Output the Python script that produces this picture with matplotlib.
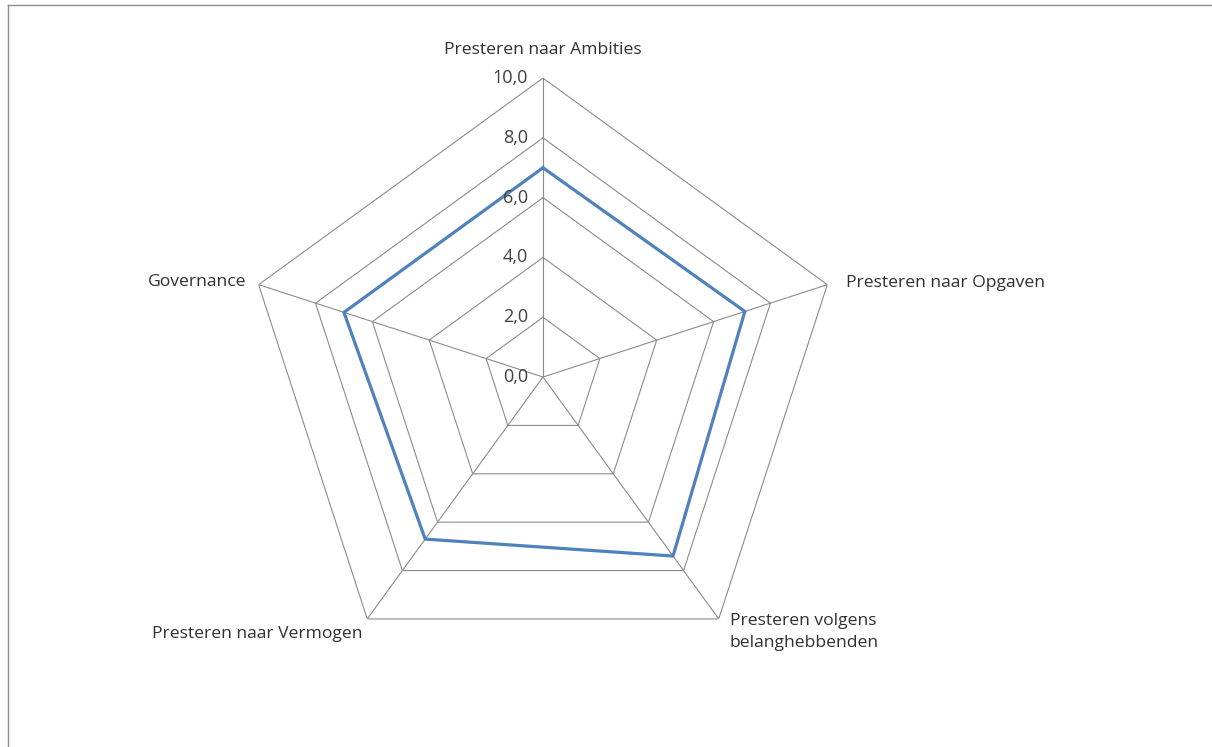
import matplotlib.pyplot as plt
import numpy as np

# radar chart data
categories = ["Presteren naar Ambities", "Presteren naar Opgaven",
              "Presteren volgens\nbelanghebbenden", "Presteren naar Vermogen",
              "Governance"]
scores = [7.0, 7.1, 7.4, 6.7, 7.0]
ticks = [0, 2, 4, 6, 8, 10]
tick_labels = ["0,0", "2,0", "4,0", "6,0", "8,0", "10,0"]

plt.rcParams['font.family'] = ['Open Sans', 'DejaVu Sans']

n = len(categories)
angles = np.linspace(0, 2 * np.pi, n, endpoint=False)
closed = np.append(angles, angles[0])

fig = plt.figure(figsize=(12.12, 7.47), dpi=100)
ax = fig.add_axes([0.2013, 0.095, 0.4934, 0.8005], projection='polar')
ax.set_theta_zero_location('N')
ax.set_theta_direction(-1)
ax.set_ylim(0, 10)
ax.grid(False)
ax.spines['polar'].set_visible(False)
ax.set_xticks([])
ax.set_yticks([])
ax.patch.set_alpha(0)

grid_color = '#8c8c8c'
# pentagon rings
for t in ticks[1:]:
    ax.plot(closed, [t] * (n + 1), color=grid_color, lw=0.8, zorder=1)
# spokes
for a in angles:
    ax.plot([a, a], [0, 10], color=grid_color, lw=0.8, zorder=1)

# data series
vals = scores + scores[:1]
ax.plot(closed, vals, color='#4f81bd', lw=2.3, zorder=3)

# value labels along the top axis
for t, lab in zip(ticks, tick_labels):
    ax.annotate(lab, (0, t), xytext=(-15, 0), textcoords='offset pixels',
                ha='right', va='center', fontsize=13, color='#404040')

# category labels
offsets = [(0, 28, 'center', 'center'), (19, 2, 'left', 'center'),
           (11, -13, 'left', 'center'), (-5, -15, 'right', 'center'),
           (-12, 3, 'right', 'center')]
for a, lab, (dx, dy, ha, va) in zip(angles, categories, offsets):
    ax.annotate(lab, (a, 10), xytext=(dx, dy), textcoords='offset pixels',
                ha=ha, va=va, fontsize=12.6, color='#303030', linespacing=1.5,
                annotation_clip=False)

# chart area border (top and left visible)
fig.add_artist(plt.Line2D([8 / 1212, 1], [1 - 5 / 747, 1 - 5 / 747],
                          color='#8c8c8c', lw=1, transform=fig.transFigure))
fig.add_artist(plt.Line2D([8 / 1212, 8 / 1212], [0, 1 - 5 / 747],
                          color='#8c8c8c', lw=1, transform=fig.transFigure))

fig.savefig('out.png', dpi=100)
